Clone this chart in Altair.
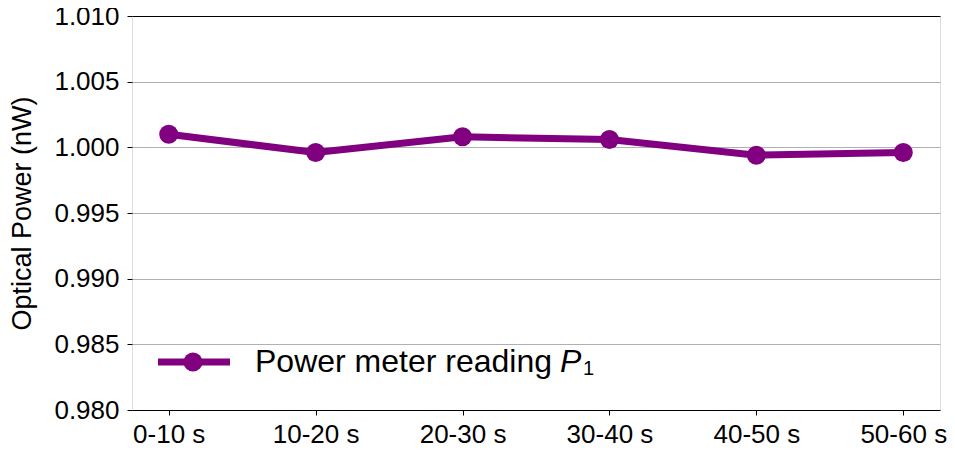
import altair as alt
import pandas as pd

# ---- data ----
categories = ["0-10 s", "10-20 s", "20-30 s", "30-40 s", "40-50 s", "50-60 s"]
power_nw = [1.0010, 0.9996, 1.0008, 1.0006, 0.9994, 0.9996]
y_ticks = [0.980, 0.985, 0.990, 0.995, 1.000, 1.005, 1.010]
legend_text = "Power meter reading"
legend_symbol = "P"
legend_subscript = "1"

df = pd.DataFrame({"interval": categories, "power": power_nw})
legend_df = pd.DataFrame({"label": [legend_text]})

PURPLE = "#800080"
FONT = "Liberation Sans"

x_enc = alt.X(
    "interval:O",
    sort=categories,
    scale=alt.Scale(type="point", padding=0.25),
    axis=alt.Axis(
        title=None, labelAngle=0, labelFont=FONT, labelFontSize=26,
        labelColor="black", tickColor="black", tickSize=5, tickWidth=1,
        domain=False, grid=False, labelPadding=6,
    ),
)
y_enc = alt.Y(
    "power:Q",
    scale=alt.Scale(domain=[0.980, 1.010], nice=False, zero=False),
    axis=alt.Axis(
        values=y_ticks, format=".3f", title="Optical Power (nW)",
        titleFont=FONT, titleFontSize=27, titleFontWeight="normal",
        titleColor="black", titlePadding=17,
        labelFont=FONT, labelFontSize=26, labelColor="black", labelPadding=8,
        tickColor="black", tickSize=5, tickWidth=1, domain=False,
        grid=True,
        gridColor=alt.condition(
            "datum.value <= 0.9801 || datum.value >= 1.0099",
            alt.value("black"), alt.value("#b0b0b0"),
        ),
        gridWidth=1,
    ),
)

base = alt.Chart(df).encode(x=x_enc, y=y_enc)
line = base.mark_line(color=PURPLE, strokeWidth=7)
pts = base.mark_point(filled=True, shape="circle", size=361, color=PURPLE, opacity=1)

leg_base = alt.Chart(legend_df)
leg_rule = leg_base.mark_rule(color=PURPLE, strokeWidth=7).encode(
    x=alt.value(26), x2=alt.value(98), y=alt.value(346)
)
leg_pt = leg_base.mark_point(filled=True, shape="circle", size=361, color=PURPLE, opacity=1).encode(
    x=alt.value(61), y=alt.value(346)
)
leg_txt = leg_base.mark_text(
    align="left", baseline="alphabetic", font=FONT, fontSize=32, color="black"
).encode(x=alt.value(123), y=alt.value(356), text="label:N")
leg_p = leg_base.mark_text(
    align="left", baseline="alphabetic", font=FONT, fontSize=32,
    fontStyle="italic", color="black", text=legend_symbol,
).encode(x=alt.value(428), y=alt.value(356))
leg_sub = leg_base.mark_text(
    align="left", baseline="alphabetic", font=FONT, fontSize=20,
    color="black", text=legend_subscript,
).encode(x=alt.value(451), y=alt.value(359))

chart = (
    alt.layer(line, pts, leg_rule, leg_pt, leg_txt, leg_p, leg_sub)
    .properties(
        width=808, height=394,
        autosize=alt.AutoSizeParams(type="none"),
        padding={"left": 124, "top": 8, "right": 7, "bottom": 43},
    )
    .configure_view(stroke="black", strokeWidth=1.2)
    .configure(background="white")
)

chart.save("out.html", embed_options={"renderer": "svg", "actions": False})
